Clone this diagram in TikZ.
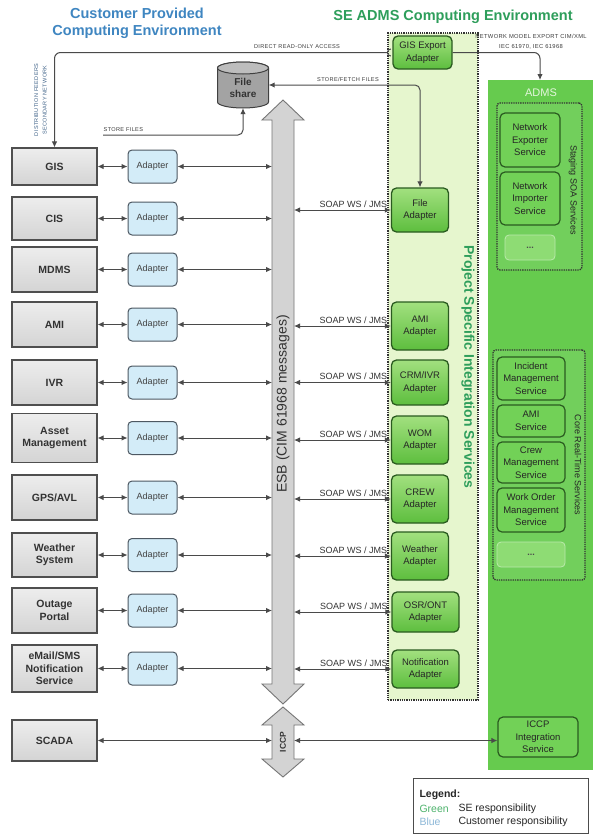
\documentclass[tikz,border=0pt]{standalone}
\usepackage{fontspec}
\setmainfont{Liberation Sans}
\newfontfamily\capsfont[LetterSpace=6]{Liberation Sans}
\usetikzlibrary{arrows.meta,calc}

\definecolor{custblue}{HTML}{3F86C1}
\definecolor{segreen}{HTML}{2E9E5B}
\definecolor{sysfill}{HTML}{D4D4D4}
\definecolor{sysfilltop}{HTML}{EDEDED}
\definecolor{sysline}{HTML}{4F4F4F}
\definecolor{adpfill}{HTML}{D3ECF8}
\definecolor{adpline}{HTML}{4D5862}
\definecolor{gtop}{HTML}{A2E07F}
\definecolor{gbot}{HTML}{5DBE3E}
\definecolor{gline}{HTML}{2A5B20}
\definecolor{colfill}{HTML}{E6F6CE}
\definecolor{admsfill}{HTML}{66CB4E}
\definecolor{svcfill}{HTML}{72D157}
\definecolor{dotsfill}{HTML}{8EDC74}
\definecolor{esbfill}{HTML}{D3D3D3}
\definecolor{esbline}{HTML}{767676}
\definecolor{wire}{HTML}{4A4A4A}
\definecolor{fsfill}{HTML}{A3A3A3}
\definecolor{fstop}{HTML}{BDBDBD}
\definecolor{notegray}{HTML}{3C3C3C}
\definecolor{feedblue}{HTML}{41648A}
\definecolor{legblue}{HTML}{8DB8D8}
\definecolor{leggreen}{HTML}{4DB36C}
\definecolor{admstext}{HTML}{E4F6DC}

\begin{document}
\begin{tikzpicture}[x=1pt,y=-1pt,
  sysbox/.style={draw=sysline, line width=1.1pt, top color=sysfilltop, bottom color=sysfill,
    minimum width=85pt, align=center, inner sep=1pt,
    font=\bfseries\fontsize{10.5}{12.5}\selectfont, text=black!80},
  adapter/.style={draw=adpline, line width=1pt, rounded corners=4pt, fill=adpfill,
    minimum width=49pt, minimum height=33pt, inner sep=1pt,
    font=\fontsize{9}{11}\selectfont, text=black!75},
  gadapter/.style={draw=gline, line width=1.3pt, rounded corners=5pt, top color=gtop,
    bottom color=gbot, minimum width=57pt, align=center, inner sep=1pt,
    font=\fontsize{9.5}{12.5}\selectfont, text=black!85},
  svc/.style={draw=gline, line width=1.2pt, rounded corners=5pt, fill=svcfill,
    align=center, inner sep=1pt, font=\fontsize{9.5}{12.5}\selectfont, text=black!85},
  dotsbox/.style={draw=dotsfill!60!white, line width=0.8pt, rounded corners=4pt, fill=dotsfill,
    inner sep=1pt, font=\bfseries\fontsize{9}{10}\selectfont, text=black!70},
  dottedframe/.style={draw=black!80, densely dotted, line width=1.3pt},
  link/.style={draw=wire, line width=1pt, {Latex[length=6pt,width=5.5pt]}-{Latex[length=6pt,width=5.5pt]}},
  oneway/.style={draw=wire, line width=1pt, -{Latex[length=6pt,width=5.5pt]}},
  soaplbl/.style={font=\fontsize{9}{10}\selectfont, text=black!80, anchor=south east, inner sep=0.5pt},
  capslbl/.style={font=\capsfont\fontsize{5.6}{7}\selectfont, text=notegray, inner sep=0.5pt}
]
\useasboundingbox (0,0) rectangle (602,835);
\fill[white] (0,0) rectangle (602,835);

% ---------- headings ----------
\node[align=center, font=\bfseries\fontsize{14.5}{17}\selectfont, text=custblue] (custtitle)
  at (137,23.5) {Customer Provided\\Computing Environment};
\node[font=\bfseries\fontsize{14.5}{17}\selectfont, text=segreen] (setitle)
  at (453,17) {SE ADMS Computing Environment};

% ---------- SE areas ----------
\node[dottedframe, fill=colfill, minimum width=90pt, minimum height=667pt] (psis) at (433,366.5) {};
\node[rotate=-90, font=\bfseries\fontsize{14}{16}\selectfont, text=segreen] (psislbl)
  at (468,367) {Project Specific Integration Services};

\node[fill=admsfill, minimum width=105pt, minimum height=690pt, inner sep=0pt] (adms) at (540.5,425) {};
\node[font=\fontsize{11}{12}\selectfont, text=admstext] (admslbl) at (541,93) {ADMS};

\node[dottedframe, rounded corners=3pt, fill=admsfill!92!white, minimum width=85pt, minimum height=167pt] (staging) at (539.5,186.5) {};
\node[rotate=-90, font=\fontsize{9}{10}\selectfont, text=black!85] (staginglbl) at (573,190) {Staging SOA Services};
\node[svc, minimum width=60pt, minimum height=54pt] (netexp) at (530,140) {Network\\Exporter\\Service};
\node[svc, minimum width=60pt, minimum height=53pt] (netimp) at (530,198.5) {Network\\Importer\\Service};
\node[dotsbox, minimum width=50pt, minimum height=25pt] (stagemore) at (530,247.5) {...};

\node[dottedframe, rounded corners=3pt, fill=admsfill!92!white, minimum width=92pt, minimum height=230pt] (core) at (539,465) {};
\node[rotate=-90, font=\fontsize{9}{10}\selectfont, text=black!85] (corelbl) at (578,465) {Core Real-Time Services};
\node[svc, minimum width=68pt, minimum height=43pt] (incident) at (531,378.5) {Incident\\Management\\Service};
\node[svc, minimum width=68pt, minimum height=32pt] (amisvc) at (531,421) {AMI\\Service};
\node[svc, minimum width=68pt, minimum height=41pt] (crewsvc) at (531,462.5) {Crew\\Management\\Service};
\node[svc, minimum width=68pt, minimum height=44pt] (wosvc) at (531,510) {Work Order\\Management\\Service};
\node[dotsbox, minimum width=68pt, minimum height=25pt] (coremore) at (531,554.5) {...};

\node[svc, minimum width=80pt, minimum height=40pt] (iccpint) at (538,737) {ICCP\\Integration\\Service};

% ---------- ESB and ICCP buses ----------
\coordinate (esbL) at (272,400);
\coordinate (esbR) at (294,400);
\path[draw=esbline, fill=esbfill, line width=0.9pt]
  (283,100) -- (304,120) -- (294,120) -- (294,684) -- (304,684) -- (283,704)
  -- (262,684) -- (272,684) -- (272,120) -- (262,120) -- cycle;
\node[rotate=90, font=\fontsize{14}{16}\selectfont, text=black!80] (esb) at (283,404) {ESB (CIM 61968 messages)};
\path[draw=esbline, fill=esbfill, line width=0.9pt]
  (283,707) -- (304,725) -- (294,725) -- (294,759) -- (304,759) -- (283,777)
  -- (262,759) -- (272,759) -- (272,725) -- (262,725) -- cycle;
\node[rotate=90, font=\bfseries\fontsize{8.5}{10}\selectfont, text=black!80] (iccp) at (283,742) {ICCP};

% ---------- customer systems ----------
\node[sysbox, minimum height=37pt] (gis) at (54.5,166.5) {GIS};
\node[sysbox, minimum height=43pt] (cis) at (54.5,218.5) {CIS};
\node[sysbox, minimum height=45pt] (mdms) at (54.5,269.5) {MDMS};
\node[sysbox, minimum height=45pt] (ami) at (54.5,324.5) {AMI};
\node[sysbox, minimum height=45pt] (ivr) at (54.5,382.5) {IVR};
\node[sysbox, minimum height=49pt] (asset) at (54.5,438) {Asset\\Management};
\node[sysbox, minimum height=45pt] (gps) at (54.5,497.5) {GPS/AVL};
\node[sysbox, minimum height=44pt] (weather) at (54.5,555) {Weather\\System};
\node[sysbox, minimum height=45pt] (outage) at (54.5,610.5) {Outage\\Portal};
\node[sysbox, minimum height=47pt] (email) at (54.5,668.5) {eMail/SMS\\Notification\\Service};
\node[sysbox, minimum height=41pt] (scada) at (54.5,740.5) {SCADA};

\coordinate (adx) at (152.5,0);
\foreach \s in {gis,cis,mdms,ami,ivr,asset,gps,weather,outage,email} {
  \node[adapter] (ad-\s) at (\s -| adx) {Adapter};
  \draw[link] (\s.east) -- (ad-\s.west);
  \draw[link] (ad-\s.east) -- (ad-\s.east -| esbL);
}

% ---------- SE integration adapters ----------
\node[gadapter, minimum width=59pt, minimum height=33pt] (gisx) at (422.5,52.5) {GIS Export\\Adapter};
\node[gadapter, minimum height=44pt] (fileadp) at (420,210) {File\\Adapter};
\node[gadapter, minimum height=48pt] (amiadp) at (420,326) {AMI\\Adapter};
\node[gadapter, minimum height=45pt] (crmadp) at (420,382.5) {CRM/IVR\\Adapter};
\node[gadapter, minimum height=48pt] (womadp) at (420,440) {WOM\\Adapter};
\node[gadapter, minimum height=48pt] (crewadp) at (420,499) {CREW\\Adapter};
\node[gadapter, minimum height=48pt] (wxadp) at (420,556) {Weather\\Adapter};
\node[gadapter, minimum width=67pt, minimum height=40pt] (osradp) at (425.5,612) {OSR/ONT\\Adapter};
\node[gadapter, minimum width=67pt, minimum height=38pt] (notadp) at (425.5,669) {Notification\\Adapter};

\foreach \g in {fileadp,amiadp,crmadp,womadp,crewadp,wxadp,osradp,notadp} {
  \draw[link] (\g.west -| esbR) -- (\g.west);
  \node[soaplbl] (soap-\g) at ([xshift=-3pt,yshift=2pt]\g.west) {SOAP WS / JMS};
}

% ---------- SCADA over ICCP ----------
\draw[link] (scada.east) -- (scada.east -| esbL);
\draw[link] (scada.east -| esbR) -- (scada.east -| iccpint.west);

% ---------- file share ----------
\node[minimum width=51pt, minimum height=46pt, inner sep=0pt] (fs) at (243,85) {};
\path[draw=black!75, line width=1pt, fill=fsfill]
  (217.5,68) -- (217.5,102) arc[start angle=180, end angle=360, x radius=25.5, y radius=-6]
  -- (268.5,68) arc[start angle=0, end angle=180, x radius=25.5, y radius=-6] -- cycle;
\path[draw=black!75, line width=1pt, fill=fstop] (243,68) ellipse[x radius=25.5, y radius=6];
\node[align=center, font=\bfseries\fontsize{10}{12}\selectfont, text=black!80] (fslbl) at (243,88) {File\\share};

\coordinate (storesrc) at (103,135);
\draw[oneway, rounded corners=5pt] (storesrc) -| (fs.south);
\node[capslbl, anchor=south west] (storelbl) at (103,132) {STORE FILES};

\draw[link, rounded corners=5pt] (fs.east) -| (fileadp.north);
\node[capslbl, anchor=south] (fetchlbl) at (348,82) {STORE/FETCH FILES};

% ---------- GIS export paths ----------
\coordinate (sock) at ($(gisx.west)+(-5,0)$);
\draw[draw=wire, line width=1pt] ([xshift=-1.5pt]gisx.west) ++(0,-3.5)
  arc[start angle=-90, end angle=-270, radius=3.5];
\draw[oneway, rounded corners=6pt] (sock) -| (gis.north);
\node[capslbl, anchor=south] (directlbl) at (297,49) {DIRECT READ-ONLY ACCESS};
\node[rotate=90, align=center, font=\capsfont\fontsize{5.5}{8.5}\selectfont, text=feedblue, inner sep=0pt] (feedlbl)
  at (40.5,100) {DISTRIBUTION FEEDERS\\SECONDARY NETWORK};

\coordinate (admsin) at (540,80);
\draw[oneway, rounded corners=6pt] (gisx.east) -| (admsin);
\node[align=center, font=\capsfont\fontsize{5.8}{9.5}\selectfont, text=notegray, inner sep=0pt] (cimlbl)
  at (531,42) {NETWORK MODEL EXPORT CIM/XML\\IEC 61970, IEC 61968};

% ---------- legend ----------
\node[draw=black!70, line width=1pt, fill=white, minimum width=175pt, minimum height=55pt] (legend) at (500.5,805.5) {};
\node[anchor=west, font=\bfseries\fontsize{10.5}{12}\selectfont, text=black!85] (legtitle) at (416,795) {Legend:};
\node[anchor=west, font=\fontsize{10.5}{12}\selectfont, text=leggreen] (leggreen) at (416,808.5) {Green};
\node[anchor=west, font=\fontsize{10.5}{12}\selectfont, text=black!85] (leggreentxt) at (455,808.5) {SE responsibility};
\node[anchor=west, font=\fontsize{10.5}{12}\selectfont, text=legblue] (legblue) at (416,822) {Blue};
\node[anchor=west, font=\fontsize{10.5}{12}\selectfont, text=black!85] (legbluetxt) at (455,822) {Customer responsibility};
\end{tikzpicture}
\end{document}
